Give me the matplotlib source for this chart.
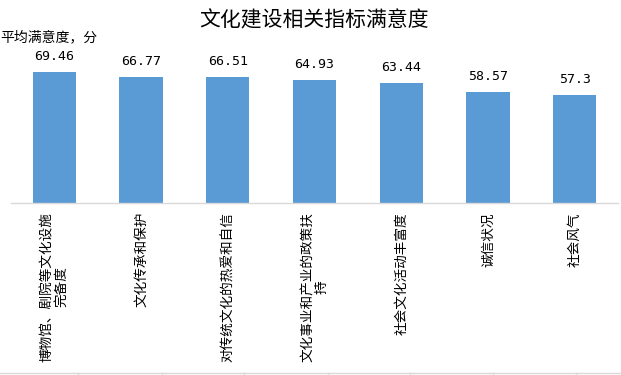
import matplotlib
matplotlib.use("Agg")
import matplotlib.pyplot as plt
from matplotlib.lines import Line2D

plt.rcParams['font.family'] = ['Noto Sans CJK SC', 'DejaVu Sans']

categories = ["博物馆、剧院等文化设施\n完备度", "文化传承和保护", "对传统文化的热爱和自信",
              "文化事业和产业的政策扶\n持", "社会文化活动丰富度", "诚信状况", "社会风气"]
values = [69.46, 66.77, 66.51, 64.93, 63.44, 58.57, 57.3]
value_labels = ["69.46", "66.77", "66.51", "64.93", "63.44", "58.57", "57.3"]
title = "文化建设相关指标满意度"
ylabel = "平均满意度，分"

W, H = 621, 375
fig = plt.figure(figsize=(W / 100, H / 100), dpi=100)
ax = fig.add_axes([11 / W, 172 / H, 607 / W, 151 / H])

x = list(range(len(categories)))
ax.bar(x, values, width=0.5, color="#5b9bd5", zorder=2)
ax.set_xlim(-0.5, len(categories) - 0.5)
ax.set_ylim(0, 80)

for s in ["top", "right", "left"]:
    ax.spines[s].set_visible(False)
ax.spines["bottom"].set_color("#d9d9d9")
ax.spines["bottom"].set_linewidth(1.0)
ax.set_yticks([])
ax.set_xticks([])

for xi, v, lab in zip(x, values, value_labels):
    ax.annotate(lab, (xi, v), xytext=(0, 11.2), textcoords="offset points",
                ha="center", va="center", fontsize=9.5, family="DejaVu Sans Mono")

for xi, c in zip(x, categories):
    ax.annotate(c, (xi, 0), xytext=(0, -6.5), textcoords="offset points",
                ha="center", va="top", rotation=90, multialignment="center",
                fontsize=9.8, linespacing=1.0)

fig.text(314 / W, 1 - 20 / H, title, ha="center", va="center", fontsize=15)
fig.text(0.0, 1 - 37 / H, ylabel, ha="left", va="center", fontsize=10)

# spreadsheet gridline at the bottom edge
yb = 2.5 / H
fig.add_artist(Line2D([0, 1], [yb, yb], color="#d9d9d9", lw=1.0))
for px in [78, 162, 244, 328, 410, 493, 576]:
    fig.add_artist(Line2D([px / W, px / W], [0, yb], color="#d9d9d9", lw=1.0))

fig.savefig("out.png", dpi=100)
